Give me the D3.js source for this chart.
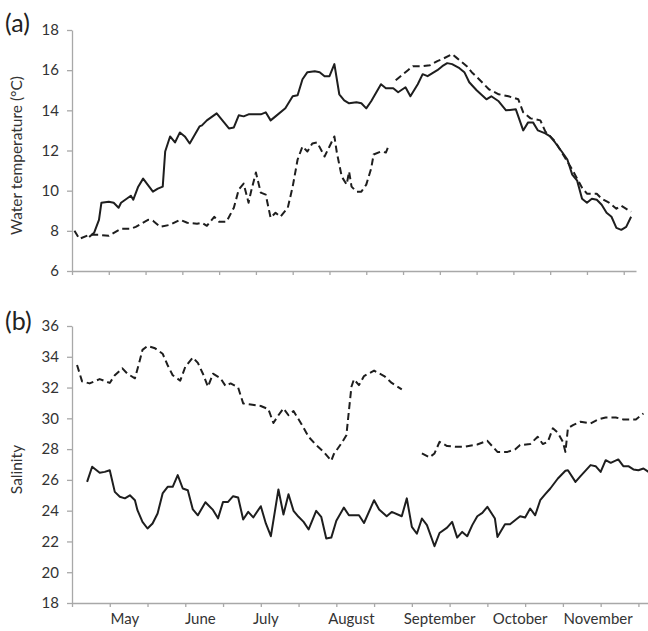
<!DOCTYPE html>
<html>
<head>
<meta charset="utf-8">
<script src="https://cdn.jsdelivr.net/npm/d3@7"></script>
<style>
  body { margin: 0; background: #fff; }
  text { font-family: Lato, "Open Sans", sans-serif; }
</style>
</head>
<body>
<div id="chart"></div>
<script>

// days counted from the start of the x axis (late April)
var tempSolidDay = [7,9,11,12,15,17,19,20,24,25,27,29,33,35,37,38,40,42,44,46,48,52,53,55,59,62,64,66,68,70,72,77,79,81,83,87,90,92,94,96,99,101,103,105,107,109,111,113,116,118,120,122,126,128,131,133,136,138,141,143,145,149,151,153,155,158,160,162,165,169,171,174,177,181,184,186,188,190,193,195,197,200,202,204,206,208,210,212,214,216,218,220,222,224,226,228];
var tempSolid = [7.69,7.9,8.55,9.4,9.45,9.4,9.15,9.4,9.75,9.55,10.2,10.6,9.95,10.1,10.2,11.95,12.7,12.4,12.9,12.7,12.35,13.2,13.25,13.5,13.85,13.4,13.1,13.15,13.75,13.7,13.8,13.8,13.9,13.5,13.7,14.1,14.7,14.75,15.55,15.9,15.95,15.9,15.7,15.7,16.3,14.8,14.5,14.35,14.4,14.35,14.1,14.45,15.3,15.1,15.1,14.9,15.15,14.7,15.3,15.8,15.7,16.0,16.2,16.35,16.3,16.1,15.9,15.4,15.0,14.55,14.7,14.45,14.0,14.05,13.0,13.4,13.4,13.0,12.85,12.7,12.4,11.9,11.55,10.8,10.5,9.6,9.4,9.6,9.55,9.3,8.9,8.7,8.15,8.05,8.2,8.7];

// null marks the gap in the record
var tempDashedDay = [1,3,7,11,15,20,24,26,31,33,36,40,44,47,51,53,55,58,60,63,66,68,70,72,73,75,77,79,81,83,85,88,90,92,94,96,98,100,103,105,107,108,110,112,113,114,116,118,120,122,123,126,128,129,130.5,132,134,137,139,143,146,149,151,155,157,161,163,166,170,174,178,182,184,187,191,193,197,201,204,208,210,214,216,219,222,224,228];
var tempDashed = [8.0,7.6,7.8,7.8,7.75,8.1,8.1,8.2,8.55,8.5,8.2,8.3,8.55,8.4,8.35,8.4,8.25,8.7,8.45,8.45,9.15,10.05,10.35,9.4,9.95,10.9,9.9,9.8,8.65,8.9,8.7,9.15,10.2,11.55,12.2,11.95,12.35,12.4,11.7,12.2,12.7,11.9,10.7,10.3,10.95,10.2,9.95,9.95,10.3,11.1,11.8,11.95,11.9,12.2,null,15.5,15.7,16.0,16.2,16.2,16.25,16.45,16.55,16.8,16.6,16.2,15.9,15.55,15.05,14.8,14.7,14.55,13.9,13.6,13.5,12.95,12.45,11.65,11.05,10.15,9.85,9.85,9.6,9.4,9.1,9.25,8.95];

var salSolidDay = [6,8,11,13,15,17,19,21,23,25,26,28,30,32,34,36,38,40,42,44,46,48,50,53,56,58,60,62,64,66,68,70,72,75,77,79,82,84,86,88,90,92,94,97,99,101,103,105,108,110,114,116,120,122,125,127,131,133,135,137,139,141,144,146,149,151,153,155,157,159,161,163,165,168,169,172,174,176,178,180,182,184,186,188,190,193,196,197,200,202,206,208,210,212,214,217,219,221,223,225,227,229];
var salSolid = [25.87,26.85,26.46,26.52,26.63,25.22,24.9,24.8,25.0,24.68,24.03,23.27,22.84,23.17,23.82,25.12,25.55,25.55,26.31,25.44,25.33,24.08,23.7,24.55,24.05,23.5,24.57,24.57,24.94,24.86,23.43,23.92,23.56,24.29,23.17,22.34,25.38,23.75,25.07,23.99,23.6,23.27,22.78,23.99,23.6,22.19,22.25,23.34,24.2,23.7,23.7,23.2,24.68,24.08,23.64,23.92,23.64,24.8,22.95,22.5,23.49,23.06,21.69,22.55,22.9,23.27,22.25,22.62,22.34,23.06,23.64,23.86,24.25,23.49,22.29,23.12,23.12,23.38,23.64,23.56,24.14,23.7,24.68,25.07,25.44,26.09,26.59,26.63,25.87,26.24,26.96,26.89,26.52,27.28,27.11,27.33,26.89,26.89,26.68,26.63,26.74,26.52];

var salDashedDay = [2,4,7,11,15,17,20,22,25,27,28,30,33,36,38,40,43,45,48,50,52,54,56,59,61,63,66,68,71,75,78,80,82,84,86,88,91,94,97,100,103,104,107,109,110,111,112,114,116,120,124,127,131,135,139,142,144,146,149,153,156,161,165,169,173,176,178,182,185,187,189,191,193,195,196,197,199,202,206,209,212,216,219,224,227];
var salDashed = [33.47,32.4,32.27,32.55,32.3,32.8,33.25,32.9,32.6,33.8,34.45,34.7,34.55,34.2,33.45,32.8,32.45,33.35,33.95,33.6,32.9,32.05,32.9,32.6,32.1,32.27,32.0,30.97,30.9,30.8,30.6,29.7,30.2,30.65,30.2,30.47,29.67,28.8,28.26,27.82,27.24,27.67,28.37,28.9,30.5,32.05,32.53,32.16,32.75,33.1,32.75,32.3,31.88,null,27.72,27.46,27.72,28.47,28.2,28.15,28.15,28.3,28.54,27.82,27.82,27.98,28.26,28.33,28.8,28.33,28.47,29.35,29.06,28.47,27.82,29.35,29.56,29.78,29.67,29.93,30.06,30.06,29.93,29.93,30.32];

var monthLabels = ["May", "June", "July", "August", "September", "October", "November"];
var monthLabelDay = [21, 51, 77, 111, 146, 178, 209];

var tempTicks = [6, 8, 10, 12, 14, 16, 18];
var salTicks = [18, 20, 22, 24, 26, 28, 30, 32, 34, 36];

var width = 648, height = 631;
var dayTicks = d3.range(0, 226, 15);

var svg = d3.select("#chart")
  .append("svg")
    .attr("width", width)
    .attr("height", height);

var xTop = d3.scaleLinear().domain([0, 230]).range([72, 636]);
var xBot = d3.scaleLinear().domain([0, 230]).range([72, 651]);
var yTemp = d3.scaleLinear().domain([6, 18]).range([271, 30]);
var ySal = d3.scaleLinear().domain([18, 36]).range([603, 326]);

function styleAxis(g) {
  g.select(".domain").attr("stroke", "#a8a8a8").attr("stroke-width", 1.3);
  g.selectAll(".tick line").attr("stroke", "#a8a8a8").attr("stroke-width", 1.3);
  g.selectAll(".tick text")
    .attr("fill", "#333")
    .style("font-size", "15px")
    .style("font-family", "Lato, sans-serif");
}

function drawPanel(x, y, yTicks, series, yTitle, letter, letterY, showMonths) {
  var y0 = y.range()[0];

  svg.append("g")
    .attr("transform", "translate(0," + y0 + ")")
    .call(d3.axisBottom(x).tickValues(dayTicks).tickSize(4).tickSizeOuter(0).tickFormat(""))
    .call(styleAxis);

  svg.append("g")
    .attr("transform", "translate(" + x.range()[0] + ",0)")
    .call(d3.axisLeft(y).tickValues(yTicks).tickSize(5).tickPadding(8).tickSizeOuter(0))
    .call(styleAxis);

  series.forEach(function(s) {
    var pts = s.days.map(function(d, i) { return [d, s.values[i]]; });
    svg.append("path")
      .datum(pts)
      .attr("fill", "none")
      .attr("stroke", "#1e1e1e")
      .attr("stroke-width", 2)
      .attr("stroke-linejoin", "round")
      .attr("stroke-dasharray", s.dashed ? "7,4" : null)
      .attr("d", d3.line()
        .defined(function(d) { return d[1] != null; })
        .x(function(d) { return x(d[0]); })
        .y(function(d) { return y(d[1]); }));
  });

  var mid = (y.range()[0] + y.range()[1]) / 2;
  svg.append("text")
    .attr("transform", "translate(22," + (mid + 5) + ") rotate(-90)")
    .attr("text-anchor", "middle")
    .attr("fill", "#333")
    .style("font-size", "15.5px")
    .text(yTitle);

  svg.append("text")
    .attr("x", 5)
    .attr("y", letterY)
    .attr("fill", "#222")
    .style("font-size", "25px")
    .text(letter);

  if (showMonths) {
    svg.append("g")
      .selectAll("text")
      .data(monthLabels)
      .join("text")
        .attr("x", function(d, i) { return x(monthLabelDay[i]); })
        .attr("y", y0 + 21)
        .attr("text-anchor", "middle")
        .attr("fill", "#333")
        .style("font-size", "15px")
        .text(function(d) { return d; });
  }
}

drawPanel(xTop, yTemp, tempTicks, [
  {days: tempDashedDay, values: tempDashed, dashed: true},
  {days: tempSolidDay, values: tempSolid, dashed: false}
], "Water temperature (\u00B0C)", "(a)", 32, false);

drawPanel(xBot, ySal, salTicks, [
  {days: salDashedDay, values: salDashed, dashed: true},
  {days: salSolidDay, values: salSolid, dashed: false}
], "Salinity", "(b)", 330, true);

</script>
</body>
</html>
